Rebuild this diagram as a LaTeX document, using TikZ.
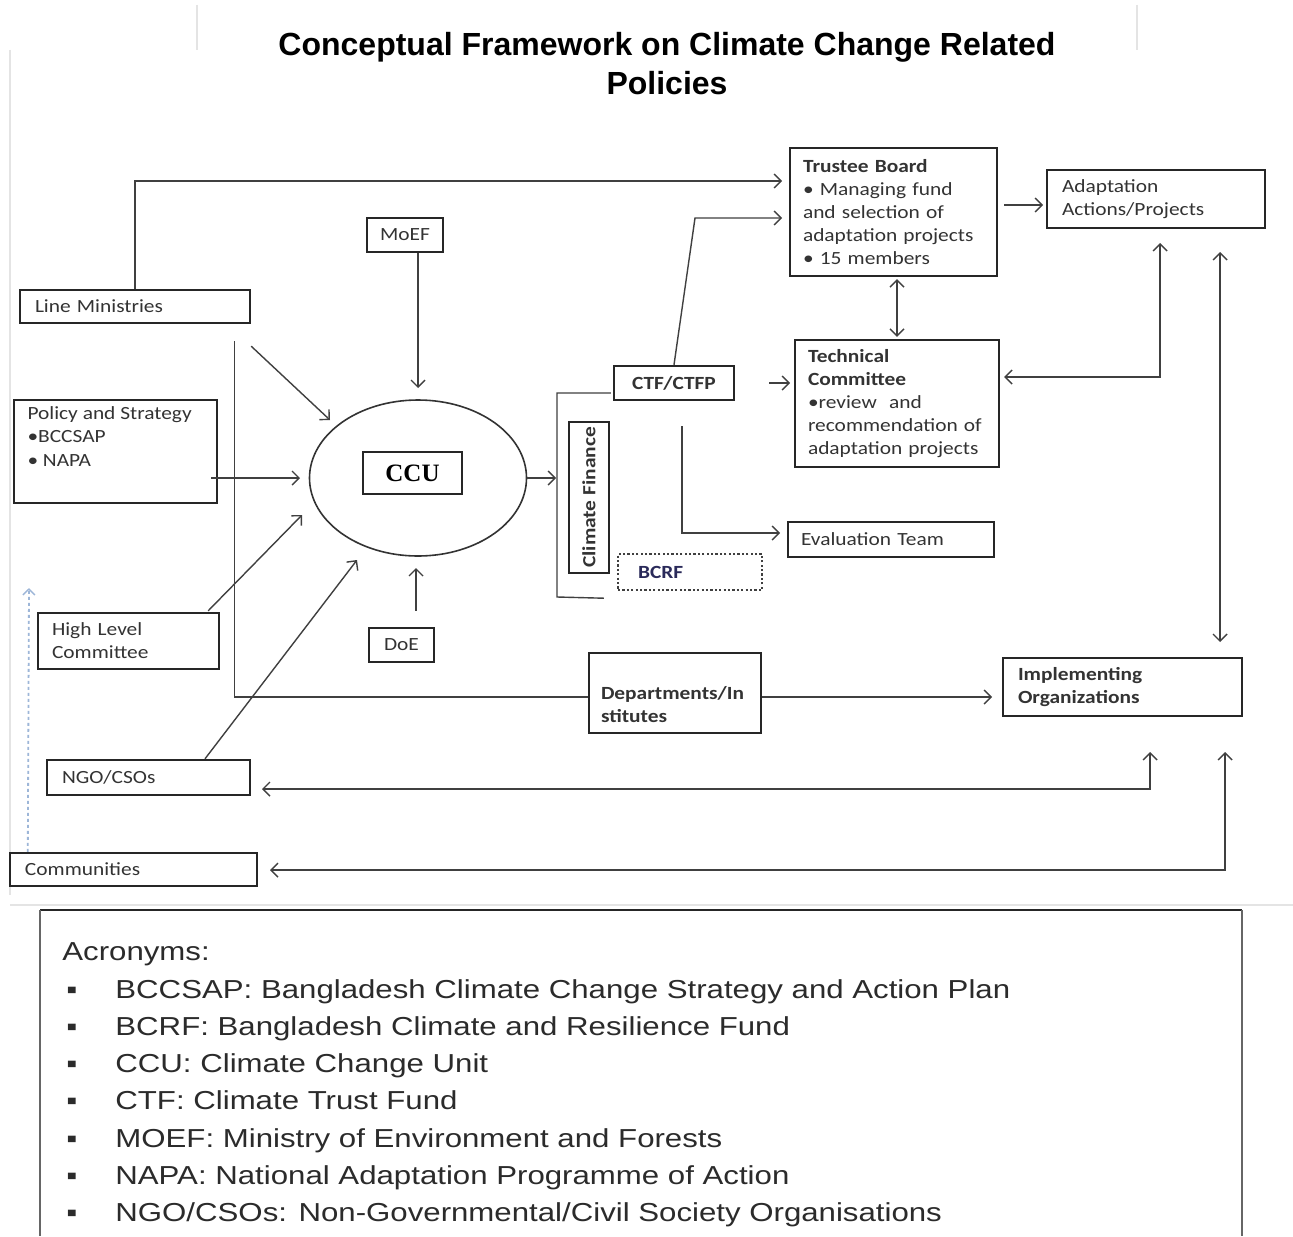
\documentclass[tikz,border=0pt]{standalone}
\usepackage{fontspec}
\setmainfont[FakeStretch=1.15]{Carlito}
\newfontfamily\titlefont{Liberation Sans}
\newfontfamily\acrfont[FakeStretch=1.2]{Liberation Sans}
\newfontfamily\ccufont{Liberation Serif}
\usetikzlibrary{shapes.geometric,arrows.meta,calc}
\newcommand\bxf{\fontsize{9.3}{11.5}\selectfont}
\newcommand\acf{\acrfont\fontsize{13}{15}\selectfont}
\definecolor{navy}{HTML}{2A2A5A}
\definecolor{faint}{HTML}{E4E4E4}
\definecolor{dotblue}{HTML}{9DB6D8}
\definecolor{acrtext}{HTML}{2B2B2B}
\begin{document}
\begin{tikzpicture}[x=0.5pt,y=-0.5pt,
  box/.style={draw=black!85, line width=1.2pt, inner sep=0pt, font=\bxf, text=black!80},
  bbox/.style={box, font=\bxf\bfseries},
  tip/.tip={Straight Barb[length=3.5pt,width=7pt,line width=0.7pt]},
  arr/.style={draw=black!75, line width=0.7pt, -tip},
  darr/.style={draw=black!75, line width=0.7pt, tip-tip},
  ln/.style={draw=black!75, line width=0.7pt},
  acr/.style={anchor=base west, font=\acf, text=acrtext, inner sep=0pt}]
\useasboundingbox (0,0) rectangle (1293,1236);
\fill[white] (0,0) rectangle (1293,1236);

% faint scan frame
\draw[faint, line width=0.6pt] (197,5) -- (197,50);
\draw[faint, line width=0.6pt] (1137,5) -- (1137,50);
\draw[faint, line width=0.6pt] (10,50) -- (10,895);
\draw[faint, line width=0.6pt] (10,905) -- (1293,905);

% title
\node[anchor=base, font=\titlefont\bfseries\fontsize{16}{19}\selectfont] (t1) at (667,56) {Conceptual Framework on Climate Change Related};
\node[anchor=base, font=\titlefont\bfseries\fontsize{16}{19}\selectfont] (t2) at (667,95) {Policies};

% boxes
\node[box, minimum width=115pt, minimum height=16.5pt, text width=100pt, align=left] (lm) at (135,306.5) {Line Ministries};
\node[box, minimum width=38pt, minimum height=17pt] (moef) at (405,235) {MoEF};
\node[box, minimum width=101.5pt, minimum height=51.5pt] (pol) at (115.5,451.5) {\parbox[c][45pt][t]{88pt}{\fontsize{9.3}{11.75}\selectfont Policy and Strategy\\•BCCSAP\\• NAPA}};
\node[ellipse, draw=black!80, line width=0.8pt, minimum width=108.5pt, minimum height=78pt, inner sep=0pt] (ccu) at (418,478) {};
\node[box, minimum width=49.5pt, minimum height=21pt, text=black, font=\ccufont\bfseries\fontsize{12.5}{14}\selectfont] (ccubox) at (412.5,473) {CCU};
\node[bbox, rotate=90, minimum width=75.5pt, minimum height=20pt] (cf) at (589,497.5) {Climate Finance};
\node[bbox, draw=black!75, dash pattern=on 1.1pt off 1.1pt, minimum width=72pt, minimum height=18pt, text width=52pt, align=left, text=navy] (bcrf) at (690,572) {BCRF};
\node[bbox, minimum width=60pt, minimum height=17pt] (ctf) at (674,383) {CTF/CTFP};
\node[box, minimum width=103.5pt, minimum height=64pt, text width=90.5pt, align=left] (tb) at (893.5,212) {\textbf{Trustee Board}\\• Managing fund\\and selection of\\adaptation projects\\• 15 members};
\node[box, minimum width=102pt, minimum height=63.5pt, text width=89pt, align=left] (tc) at (897,403.5) {\textbf{Technical}\\\textbf{Committee}\\•review\ \ and\\recommendation of\\adaptation projects};
\node[box, minimum width=109pt, minimum height=29pt, text width=94pt, align=left] (aa) at (1156,199) {Adaptation\\Actions/Projects};
\node[box, minimum width=103pt, minimum height=17.5pt, text width=90pt, align=left] (et) at (891,539.5) {Evaluation Team};
\node[box, minimum width=32.5pt, minimum height=17pt] (doe) at (401.5,645) {DoE};
\node[box, minimum width=90.5pt, minimum height=28pt, text width=76.5pt, align=left] (hlc) at (128.5,641) {High Level\\Committee};
\node[box, minimum width=101.5pt, minimum height=17.5pt, text width=86.5pt, align=left] (ngo) at (148.5,777.5) {NGO/CSOs};
\node[box, minimum width=86pt, minimum height=40pt] (dept) at (675,693) {\parbox[c][30pt][b]{74pt}{\bfseries Departments/In\\stitutes}};
\node[bbox, minimum width=119.5pt, minimum height=29pt, text width=104.5pt, align=left] (io) at (1122.5,687) {Implementing\\Organizations};
\node[box, minimum width=123.5pt, minimum height=16.5pt, text width=108.5pt, align=left] (com) at (133.5,869.5) {Communities};

% connector end points
\coordinate (tbA) at (782,181);
\coordinate (tbB) at (782,218);
\coordinate (ccuN) at (418,388);
\coordinate (ccuNW) at (330,420);
\coordinate (ccuW) at (300,478);
\coordinate (ccuSW1) at (302,515);
\coordinate (ccuSW2) at (357,560);
\coordinate (ccuS) at (416,568);
\coordinate (brk) at (556,478);
\coordinate (tcW) at (790,383);
\coordinate (etW) at (780,533);
\coordinate (aaW) at (1043,205);
\coordinate (aaS) at (1160,243);
\coordinate (aaS2) at (1220,252);
\coordinate (ioN) at (1220,642);
\coordinate (ioW) at (992,697);
\coordinate (ioS1) at (1150,752);
\coordinate (ioS2) at (1225,752);
\coordinate (ngoE) at (262,789);
\coordinate (comE) at (270,870);
\coordinate (blueTip) at (29,588);

% connectors
\draw[arr] (lm.north) |- (tbA);
\draw[arr] ($(moef.south)+(13,0)$) -- (ccuN);
\draw[arr] ($(lm.south east)+(0,22)$) -- (ccuNW);
\draw[arr] ($(pol.east)+(-7,26.5)$) -- (ccuW);
\draw[ln] ($(lm.south east)+(-17,17)$) |- ($(dept.west)+(0,4)$);
\draw[arr] ($(hlc.north east)+(-12,-1)$) -- (ccuSW1);
\draw[arr] ($(ngo.north)+(56.5,0)$) -- (ccuSW2);
\draw[arr] ($(doe.north)+(14.5,-16)$) -- (ccuS);
\draw[arr] (ccu.east) -- (brk);
\draw[ln] ($(ctf.west)+(-2,10)$) -- (557,393) -- (557,597) -- ($(bcrf.south west)+(-13,7)$);
\draw[arr] (ctf.north) -- (695,218) -- (tbB);
\draw[arr] ($(ctf.east)+(34,0)$) -- (tcW);
\draw[arr] ($(ctf.south)+(8,25)$) |- (etW);
\draw[darr] ($(tc.north |- tb.south)+(0,2)$) -- ($(tc.north)+(0,-2)$);
\draw[arr] ($(tb.east)+(6,-7)$) -- (aaW);
\draw[darr] ($(tc.east)+(4,-26.5)$) -| (aaS);
\draw[darr] (aaS2) -- (ioN);
\draw[arr] ($(dept.east)+(0,4)$) -- (ioW);
\draw[darr] (ioS1) |- (ngoE);
\draw[darr] (ioS2) |- (comE);
\draw[dotblue, line width=0.9pt, dash pattern=on 1.5pt off 1.5pt, -{Straight Barb[length=3pt,width=6pt,line width=0.7pt]}] ($(com.north west)+(19,0)$) -- (blueTip);

% acronyms frame
\draw[black!85, line width=1.2pt] (40,910) -- (1242,910);
\draw[black!60, line width=0.8pt] (40,910) -- (40,1236);
\draw[black!60, line width=0.8pt] (1242,910) -- (1242,1236);

\node[acr] (ac0) at (62,960) {Acronyms:};
\foreach \i/\t in {0/{BCCSAP: Bangladesh Climate Change Strategy and Action Plan},
                   1/{BCRF: Bangladesh Climate and Resilience Fund},
                   2/{CCU: Climate Change Unit},
                   3/{CTF: Climate Trust Fund},
                   4/{MOEF: Ministry of Environment and Forests},
                   5/{NAPA: National Adaptation Programme of Action},
                   6/{NGO/CSOs: Non-Governmental/Civil Society Organisations}}{
  \node[acr] (acb\i) at (66,{998+37.3*\i}) {▪};
  \node[acr] (act\i) at (115,{998+37.3*\i}) {\t};
}
\end{tikzpicture}
\end{document}
